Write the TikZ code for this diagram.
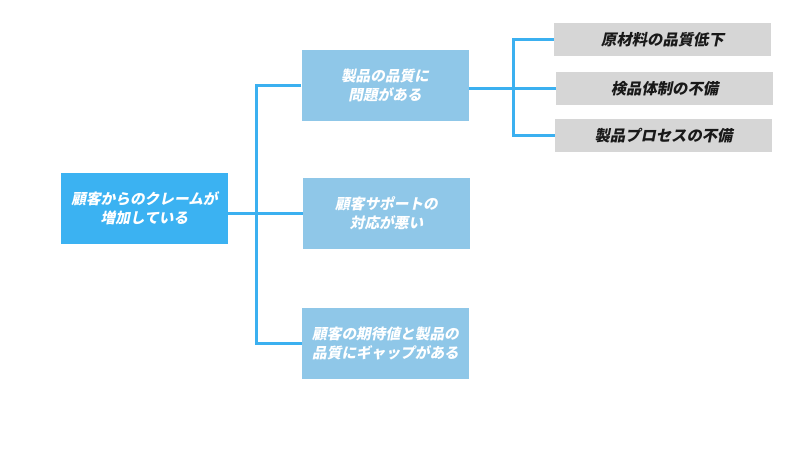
\documentclass[tikz,border=0pt]{standalone}
\usepackage{fontspec}
\newfontfamily\cjk[FakeSlant=0.2,BoldFeatures={FakeSlant=0.2}]{Noto Sans CJK JP}
\definecolor{rootblue}{HTML}{3BB2F2}
\definecolor{midblue}{HTML}{8FC7E8}
\definecolor{greybox}{HTML}{D6D6D6}
\definecolor{linkblue}{HTML}{3BB0F0}
\begin{document}
\begin{tikzpicture}[x=0.75pt,y=-0.75pt,
  box/.style={draw=none,inner sep=0pt,align=center,font=\cjk\bfseries\fontsize{11}{14.5}\selectfont},
  rootbox/.style={box,fill=rootblue,text=white,minimum width=125.25pt,minimum height=53.25pt},
  midbox/.style={box,fill=midblue,text=white,minimum width=125.25pt,minimum height=53.25pt},
  leafbox/.style={box,fill=greybox,text=black!90,minimum width=162.75pt,minimum height=24.75pt,font=\cjk\bfseries\fontsize{11.5}{14}\selectfont},
  link/.style={draw=linkblue,line width=2.25pt}]
\useasboundingbox (0,0) rectangle (790,450);
\fill[white] (0,0) rectangle (790,450);
\node[rootbox] (root) at (144.5,208.5) {顧客からのクレームが\\増加している};
\node[midbox] (n1) at (385,85.5) {製品の品質に\\問題がある};
\node[midbox] (n2) at (386.5,213.5) {顧客サポートの\\対応が悪い};
\node[midbox] (n3) at (385.5,343.5) {顧客の期待値と製品の\\品質にギャップがある};
\node[leafbox] (r1) at (662.5,39.5) {原材料の品質低下};
\node[leafbox] (r2) at (664.5,88.5) {検品体制の不備};
\node[leafbox] (r3) at (663.5,135.5) {製品プロセスの不備};
\coordinate (jx) at (256,0);
\coordinate (kx) at (513,0);
\draw[link] (root.east |- n2.west) -- (n2.west);
\draw[link] (n1.west) -| (jx |- n3.west) -- (n3.west);
\draw[link] (n1.east |- r2.west) -- (r2.west);
\draw[link] (r1.west) -| (kx |- r3.west) -- (r3.west);
\end{tikzpicture}
\end{document}
